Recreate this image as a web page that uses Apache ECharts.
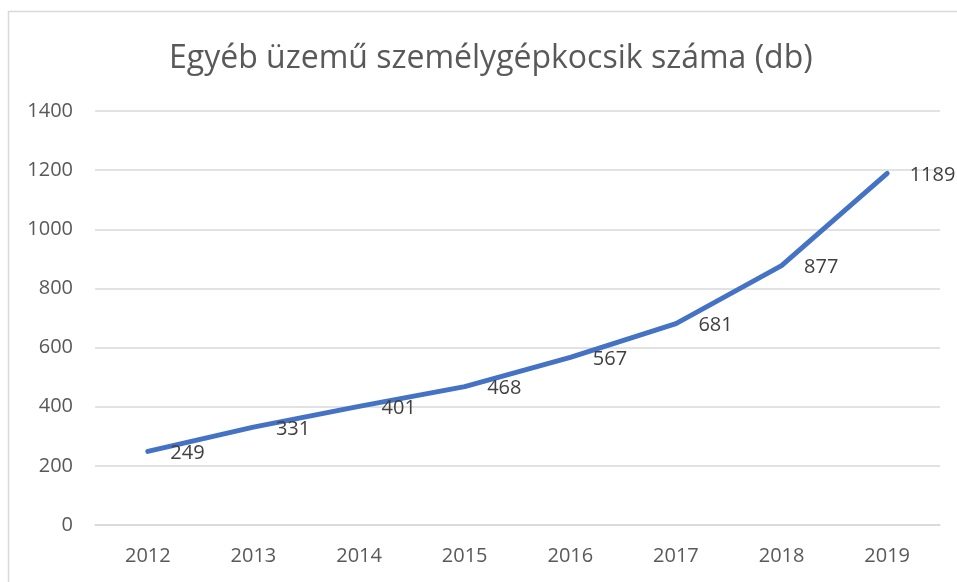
<!DOCTYPE html>
<html lang="hu">
<head>
    <meta http-equiv="Content-Type" content="text/html; charset=utf-8"/>
    <title>Egyéb üzemű személygépkocsik száma</title>
    <script type="text/javascript" src="https://cdn.jsdelivr.net/npm/echarts@6/dist/echarts.min.js"></script>
    <style>
        html, body { margin: 0; padding: 0; background: #fff; }
        #chart { width: 957px; height: 582px; }
    </style>
</head>
<body>
<div id="chart"></div>
<script type="text/javascript">
    // adatok
    var years = ['2012', '2013', '2014', '2015', '2016', '2017', '2018', '2019'];
    var counts = [249, 331, 401, 468, 567, 681, 877, 1189];
    var yTicks = [0, 200, 400, 600, 800, 1000, 1200, 1400];

    var myChart = echarts.init(document.getElementById('chart'));
    var font = 'Open Sans, "Noto Sans", sans-serif';

    var option = {
        animation: false,
        textStyle: { fontFamily: font },
        title: {
            text: 'Egyéb üzemű személygépkocsik száma (db)',
            left: 164,
            top: 38,
            textStyle: { fontSize: 32, fontWeight: 'normal', color: '#595959', fontFamily: font }
        },
        graphic: [{
            type: 'rect',
            shape: { x: 8.5, y: 11.5, width: 1000, height: 1000 },
            style: { fill: 'none', stroke: '#d9d9d9', lineWidth: 1.5 },
            silent: true
        }],
        grid: { left: 95, right: 17, top: 111, bottom: 57 },
        xAxis: {
            type: 'category',
            data: years,
            boundaryGap: true,
            axisLine: { show: true, lineStyle: { color: '#d9d9d9', width: 1.5 } },
            axisTick: { show: false },
            axisLabel: { color: '#595959', fontSize: 20, margin: 21, fontFamily: font }
        },
        yAxis: {
            type: 'value',
            min: yTicks[0],
            max: yTicks[yTicks.length - 1],
            interval: 200,
            axisLine: { show: false },
            axisTick: { show: false },
            axisLabel: {
                color: '#595959', fontSize: 20, margin: 22, fontFamily: font,
                formatter: function (v) { return String(v); }
            },
            splitLine: { lineStyle: { color: '#d9d9d9', width: 1.5 } }
        },
        series: [{
            type: 'line',
            data: counts,
            symbol: 'circle',
            symbolSize: 1,
            showSymbol: true,
            lineStyle: { color: '#4472c4', width: 5, cap: 'round', join: 'round' },
            itemStyle: { color: '#4472c4' },
            label: {
                show: true,
                position: 'right',
                distance: 22,
                offset: [0, 2],
                color: '#404040',
                fontSize: 20,
                fontFamily: font
            }
        }]
    };
    myChart.setOption(option);
</script>
</body>
</html>
